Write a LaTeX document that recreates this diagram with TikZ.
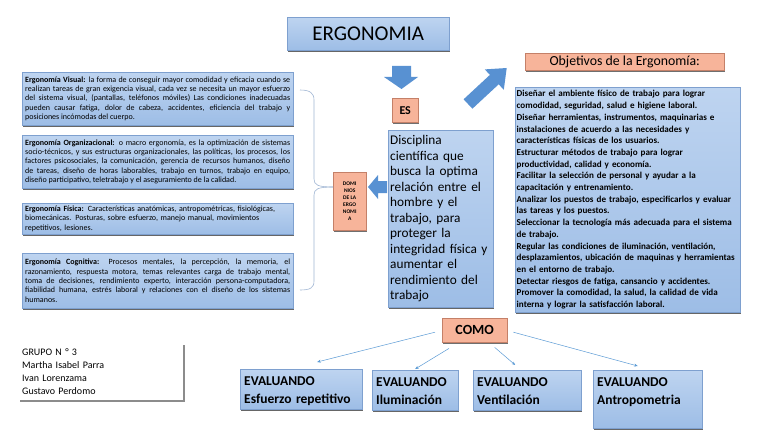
\documentclass[tikz,border=0pt]{standalone}
\usepackage{fontspec}
\setmainfont{Carlito}
\usetikzlibrary{calc, shadows, arrows.meta}
\hyphenpenalty=10000
\exhyphenpenalty=10000

\definecolor{boxtop}{RGB}{190,212,240}
\definecolor{boxbot}{RGB}{157,189,230}
\definecolor{boxline}{RGB}{126,160,207}
\definecolor{salmon}{RGB}{247,180,154}
\definecolor{salmonline}{RGB}{196,128,104}
\definecolor{arrowblue}{RGB}{88,145,210}
\definecolor{linkblue}{RGB}{91,155,213}
\definecolor{bracegray}{RGB}{160,182,212}

\tikzset{
    bluebox/.style={draw=boxline, top color=boxtop, bottom color=boxbot,
        drop shadow={shadow xshift=1pt, shadow yshift=-1.8pt, fill=black!75, opacity=0.8}},
    salmonbox/.style={draw=salmonline, fill=salmon, anchor=north west, inner sep=0pt,
        drop shadow={shadow xshift=1pt, shadow yshift=-1.5pt, fill=black!70, opacity=0.8}},
    dombox/.style={bluebox, anchor=north west, text width=265pt, inner xsep=3pt, inner ysep=2pt,
        align=justify, font=\fontsize{8}{9.4}\selectfont},
    evalbox/.style={bluebox, anchor=north west, align=left, inner xsep=4pt, inner ysep=4pt,
        text height=12.5pt, text depth=19.5pt, font=\bfseries\fontsize{13.5}{18}\selectfont},
    link/.style={draw=linkblue, line width=0.5pt, -{Stealth[length=3.5pt, width=3pt]}},
    brace/.style={draw=bracegray, line width=0.6pt}
}

\begin{document}
\begin{tikzpicture}[x=1pt, y=-1pt]
    \path[fill=white, use as bounding box] (0,0) rectangle (768,433);

    % Title and what it is
    \node[bluebox, anchor=north west, minimum width=162pt, minimum height=33pt,
        font=\fontsize{21}{24}\selectfont] (ergo) at (287,17) {ERGONOMIA};
    \fill[arrowblue] (392,66) -- (411,66) -- (411,77) -- (418,77) -- (401.5,89) -- (384,77) -- (392,77) -- cycle;
    \node[salmonbox, minimum width=26pt, minimum height=24pt,
        font=\bfseries\fontsize{12}{14}\selectfont] (es) at (392,98) {ES};
    \node[bluebox, anchor=north west, text width=101pt, inner xsep=2pt, minimum height=177pt, align=left,
        font=\fontsize{13.3}{15.5}\selectfont] (disc) at (388,130)
        {Disciplina\\científica que\\busca la optima\\relación entre el\\hombre y el\\trabajo, para\\proteger la\\integridad física y\\aumentar el\\rendimiento del\\trabajo};

    % Dominios
    \fill[arrowblue] (387,181) -- (378,181) -- (378,175) -- (368,187) -- (378,199) -- (378,193) -- (387,193) -- cycle;
    \node[salmonbox, minimum width=33pt, minimum height=58pt, align=center,
        font=\bfseries\fontsize{5.5}{7}\selectfont] (dom) at (333,172) {DOMI\\NIOS\\DE LA\\ERGO\\NOMI\\A};
    \coordinate (bracetip) at ($(dom.north west)+(0,15)$);
    \draw[brace] (300,90) .. controls (310,90) and (314,93) .. (314,100) -- (314,179)
        .. controls (314,185) and (318,187) .. (bracetip);
    \draw[brace] (bracetip) .. controls (318,187) and (314,189) .. (314,195) -- (314,281)
        .. controls (314,288) and (310,290) .. (300,290);

    \node[dombox, minimum height=53pt] (visual) at (22,72)
        {\textbf{Ergonomía Visual:} la forma de conseguir mayor comodidad y eficacia cuando se\linebreak
        realizan tareas de gran exigencia visual, cada vez se necesita un mayor esfuerzo\linebreak
        del sistema visual, (pantallas, teléfonos móviles) Las condiciones inadecuadas\linebreak
        pueden causar fatiga, dolor de cabeza, accidentes, eficiencia del trabajo y\linebreak
        posiciones incómodas del cuerpo.};
    \node[dombox, minimum height=53pt] (organiz) at (22,135)
        {\textbf{Ergonomía Organizacional:} o macro ergonomía, es la optimización de sistemas\linebreak
        socio-técnicos, y sus estructuras organizacionales, las políticas, los procesos, los\linebreak
        factores psicosociales, la comunicación, gerencia de recursos humanos, diseño\linebreak
        de tareas, diseño de horas laborables, trabajo en turnos, trabajo en equipo,\linebreak
        diseño participativo, teletrabajo y el aseguramiento de la calidad.};
    \node[dombox, minimum height=31pt, align=left] (fisica) at (22,203)
        {\textbf{Ergonomía Física:} Características anatómicas, antropométricas, fisiológicas,\\
        biomecánicas. Posturas, sobre esfuerzo, manejo manual, movimientos\\
        repetitivos, lesiones.};
    \node[dombox, minimum height=55pt] (cognit) at (22,253)
        {\textbf{Ergonomía Cognitiva:} Procesos mentales, la percepción, la memoria, el\linebreak
        razonamiento, respuesta motora, temas relevantes carga de trabajo mental,\linebreak
        toma de decisiones, rendimiento experto, interacción persona-computadora,\linebreak
        fiabilidad humana, estrés laboral y relaciones con el diseño de los sistemas\linebreak
        humanos.};

    % Objetivos
    \fill[arrowblue] (472.4,108.7) -- (498.7,84.3) -- (503.8,89.8) -- (506.7,68) -- (484.8,69.4) -- (489.9,74.9) -- (463.6,99.3) -- cycle;
    \node[salmonbox, minimum width=199pt, minimum height=17pt,
        font=\fontsize{13.8}{15}\selectfont] (objtitle) at (525,53) {Objetivos de la Ergonomía:};
    \node[bluebox, anchor=north west, text width=222pt, inner xsep=1.5pt, minimum height=221pt, align=left,
        font=\bfseries\fontsize{9.1}{11.7}\selectfont] (obj) at (515,87)
        {Diseñar el ambiente físico de trabajo para lograr\\
        comodidad, seguridad, salud e higiene laboral.\\
        Diseñar herramientas, instrumentos, maquinarias e\\
        instalaciones de acuerdo a las necesidades y\\
        características físicas de los usuarios.\\
        Estructurar métodos de trabajo para lograr\\
        productividad, calidad y economía.\\
        Facilitar la selección de personal y ayudar a la\\
        capacitación y entrenamiento.\\
        Analizar los puestos de trabajo, especificarlos y evaluar\\
        las tareas y los puestos.\\
        Seleccionar la tecnología más adecuada para el sistema\\
        de trabajo.\\
        Regular las condiciones de iluminación, ventilación,\\
        desplazamientos, ubicación de maquinas y herramientas\\
        en el entorno de trabajo.\\
        Detectar riesgos de fatiga, cansancio y accidentes.\\
        Promover la comodidad, la salud, la calidad de vida\\
        interna y lograr la satisfacción laboral.};

    % Como
    \node[salmonbox, minimum width=65pt, minimum height=24pt,
        font=\bfseries\fontsize{14}{16}\selectfont] (como) at (442,318) {COMO};
    \node[evalbox, text width=114pt] (e1) at (240,369) {EVALUANDO\\Esfuerzo repetitivo};
    \node[evalbox, text width=78pt] (e2) at (372,370) {EVALUANDO\\Iluminación};
    \node[evalbox, text width=100pt] (e3) at (473,370) {EVALUANDO\\Ventilación};
    \node[evalbox, text width=101pt, text depth=37.5pt] (e4) at (593,370) {EVALUANDO\\Antropometria};
    \draw[link] ($(como.west)+(-7,2)$) -- ($(e1.north)+(16,-7)$);
    \draw[link] ($(como.south west)+(7,6)$) -- ($(e2.north)+(0,-1)$);
    \draw[link] ($(como.south)+(20,5)$) -- ($(e3.north)+(-12,-5)$);
    \draw[link] ($(como.east)+(6,2)$) -- ($(e4.north)+(-10,-4)$);

    % Grupo
    \node[anchor=north west, fill=white, minimum width=165pt, minimum height=57pt,
        text width=157pt, inner xsep=4pt, align=left, font=\fontsize{10}{13}\selectfont,
        drop shadow={shadow xshift=1.5pt, shadow yshift=-1.5pt, fill=black!45, opacity=1}] (grupo) at (18,343)
        {GRUPO N ° 3\\Martha Isabel Parra\\Ivan Lorenzama\\Gustavo Perdomo};
\end{tikzpicture}
\end{document}
